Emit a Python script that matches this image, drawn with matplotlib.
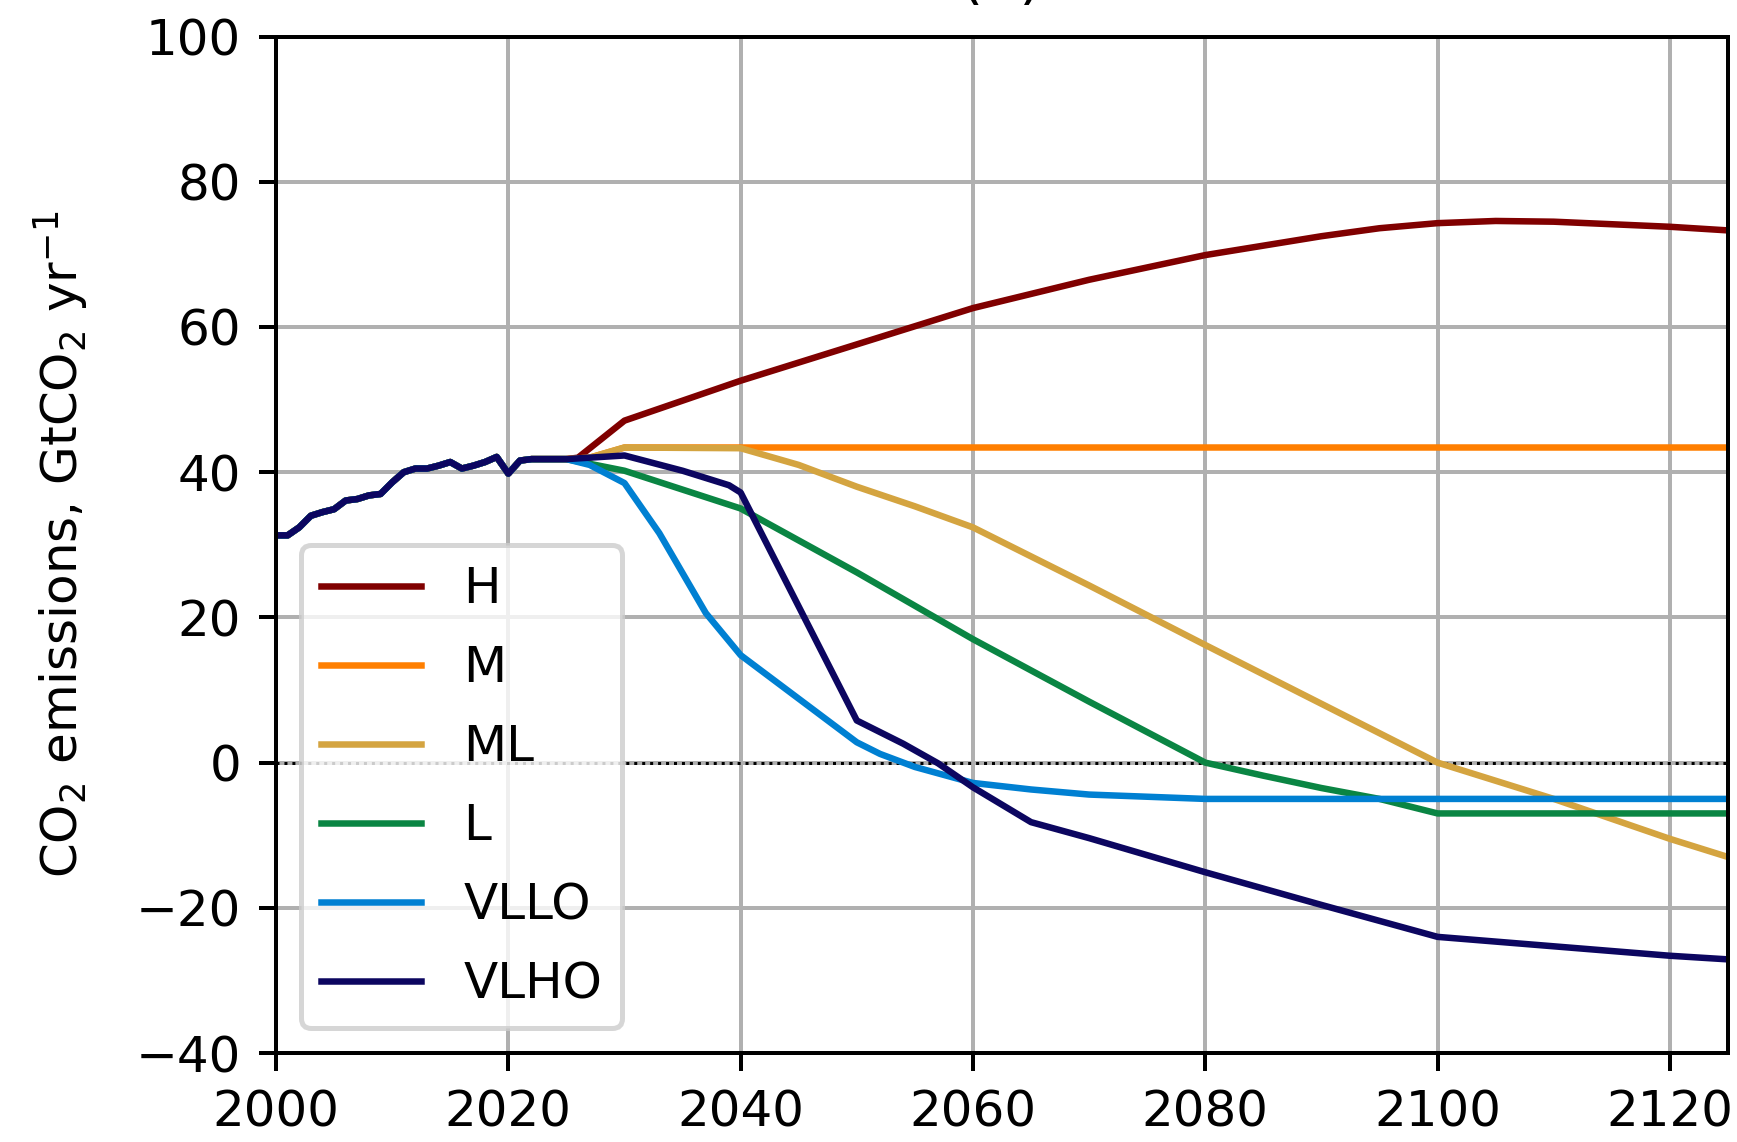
import matplotlib
matplotlib.use("Agg")
import matplotlib.pyplot as plt

# historical CO2 emissions (GtCO2/yr), shared by all scenarios
hist_years = list(range(2000, 2026))
hist_co2 = [31.3, 31.3, 32.4, 34.0, 34.5, 34.9, 36.1, 36.3, 36.8, 37.0,
            38.6, 40.0, 40.5, 40.5, 40.9, 41.4, 40.5, 40.9, 41.4, 42.1,
            39.8, 41.6, 41.8, 41.8, 41.8, 41.8]

# scenario pathways after 2025
h_years = [2025, 2026, 2030, 2040, 2050, 2060, 2070, 2080, 2090, 2095, 2100, 2105, 2110, 2120, 2125]
h_co2 = [41.8, 42.0, 47.1, 52.6, 57.6, 62.6, 66.5, 69.9, 72.5, 73.6, 74.3, 74.6, 74.5, 73.8, 73.3]

m_years = [2025, 2027, 2030, 2125]
m_co2 = [41.8, 42.0, 43.4, 43.4]

ml_years = [2025, 2027, 2030, 2040, 2045, 2050, 2055, 2060, 2070, 2080, 2090, 2100, 2110, 2120, 2125]
ml_co2 = [41.8, 42.0, 43.4, 43.3, 41.0, 38.0, 35.3, 32.4, 24.4, 16.2, 8.1, 0.0, -5.0, -10.5, -13.0]

l_years = [2025, 2030, 2040, 2050, 2060, 2070, 2080, 2085, 2090, 2095, 2100, 2125]
l_co2 = [41.8, 40.2, 35.0, 26.2, 17.0, 8.4, 0.0, -1.8, -3.5, -5.0, -7.0, -7.0]

vllo_years = [2025, 2027, 2030, 2033, 2037, 2040, 2045, 2050, 2052, 2055, 2060, 2065, 2070, 2080, 2125]
vllo_co2 = [41.8, 41.0, 38.5, 31.6, 20.6, 14.8, 8.8, 2.8, 1.2, -0.6, -2.8, -3.7, -4.4, -5.0, -5.0]

vlho_years = [2025, 2030, 2035, 2039, 2040, 2050, 2054, 2057, 2060, 2065, 2070, 2080, 2090, 2100, 2110, 2120, 2125]
vlho_co2 = [41.8, 42.3, 40.2, 38.2, 37.2, 5.8, 2.6, -0.1, -3.4, -8.2, -10.4, -15.1, -19.6, -24.0, -25.3, -26.6, -27.1]

labels = ["H", "M", "ML", "L", "VLLO", "VLHO"]
colors = ["#800000", "#ff7f00", "#d4a440", "#0a8543", "#0080d2", "#0c0660"]
years = [h_years, m_years, ml_years, l_years, vllo_years, vlho_years]
values = [h_co2, m_co2, ml_co2, l_co2, vllo_co2, vlho_co2]

fig = plt.figure(figsize=(1737 / 360, 1142 / 360), dpi=360)
ax = fig.add_axes([0.1589, 0.0779, 0.8359, 0.8901])

ax.axhline(0, color="k", ls=":", lw=0.6)
for lab, col, yr, val in zip(labels, colors, years, values):
    ax.plot(hist_years[:-1] + yr, hist_co2[:-1] + val, color=col, lw=1.3, label=lab)

ax.set_xlim(2000, 2125)
ax.set_ylim(-40, 100)
ax.set_xticks(range(2000, 2121, 20))
ax.set_yticks(range(-40, 101, 20))
ax.grid(True)
ax.set_ylabel("CO$_2$ emissions, GtCO$_2$ yr$^{-1}$", labelpad=9)
ax.set_title("(a)", pad=8)
ax.legend(loc="lower left", labelspacing=0.62, handletextpad=0.85)

fig.savefig("out.png", dpi=360)
